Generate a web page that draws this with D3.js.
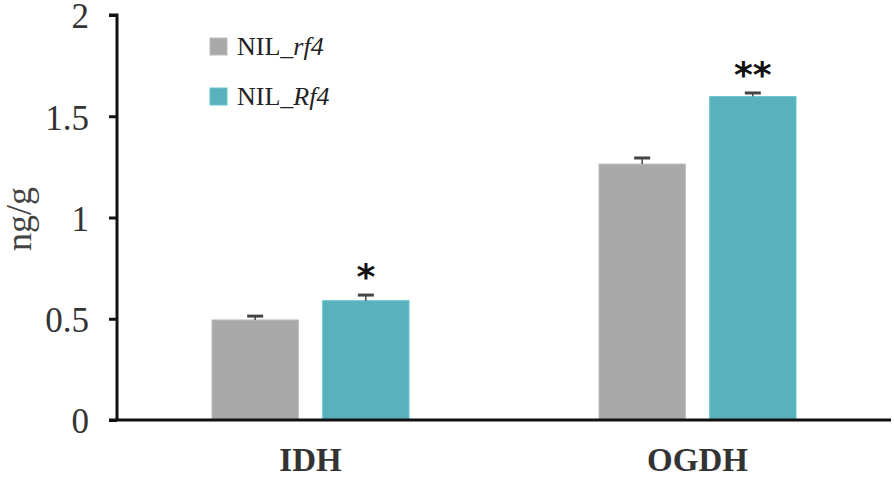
<!DOCTYPE html>
<html>
<head>
<meta charset="utf-8">
<script src="https://cdn.jsdelivr.net/npm/d3@7"></script>
<style>
  body { margin: 0; background: #fff; }
  text { font-family: "Liberation Serif", "DejaVu Serif", serif; fill: #333; }
</style>
</head>
<body>
<svg id="chart" width="894" height="481"></svg>
<script>
const categories = ["IDH", "OGDH"];
const series = ["rf4", "Rf4"];
const rf4Values = [0.494, 1.264];
const Rf4Values = [0.589, 1.597];
const rf4Errors = [0.019, 0.03];
const Rf4Errors = [0.028, 0.018];
const signif = ["*", "**"];
const yTicks = [0, 0.5, 1, 1.5, 2];
const colors = ["#a8a9a8", "#59b1bc"];

const svg = d3.select("#chart");

const y = d3.scaleLinear().domain([0, 2]).range([420, 15]);
const x0 = d3.scaleBand().domain(categories).range([117, 891]);
const x1 = d3.scaleBand().domain(series).range([-98.5, 98.5]).paddingInner(0.22);

const values = [rf4Values, Rf4Values];
const errors = [rf4Errors, Rf4Errors];

// bars
categories.forEach((cat, ci) => {
    const cx = x0(cat) + x0.bandwidth() / 2;
    series.forEach((s, si) => {
        const v = values[si][ci];
        const e = errors[si][ci];
        const bx = cx + x1(s);
        svg.append("rect")
            .attr("x", bx)
            .attr("y", y(v))
            .attr("width", x1.bandwidth())
            .attr("height", y(0) - y(v))
            .attr("fill", colors[si])
            .attr("stroke", d3.color(colors[si]).brighter(0.3))
            .attr("stroke-width", 1);
        // error bar
        const mx = bx + x1.bandwidth() / 2;
        svg.append("line")
            .attr("x1", mx).attr("x2", mx)
            .attr("y1", y(v)).attr("y2", y(v + e))
            .attr("stroke", "#444").attr("stroke-width", 1.5);
        svg.append("line")
            .attr("x1", mx - 8).attr("x2", mx + 8)
            .attr("y1", y(v + e)).attr("y2", y(v + e))
            .attr("stroke", "#444").attr("stroke-width", 3);
    });
    // significance stars over Rf4 bar
    const sx = cx + x1("Rf4") + x1.bandwidth() / 2;
    svg.append("text")
        .attr("x", sx)
        .attr("y", y(Rf4Values[ci] + Rf4Errors[ci]) - 6)
        .attr("text-anchor", "middle")
        .style("font-family", "'DejaVu Sans', sans-serif")
        .style("font-weight", "bold")
        .style("font-size", "36px")
        .style("fill", "#111")
        .text(signif[ci]);
});

// y axis
const yAxis = svg.append("g")
    .attr("transform", "translate(117,0)")
    .call(d3.axisLeft(y).tickValues(yTicks).tickSize(8).tickPadding(20).tickFormat(d3.format("")));
yAxis.select(".domain").attr("stroke", "#111").attr("stroke-width", 3)
    .attr("d", `M-8,${y(2)}H0V${y(0)}`);
yAxis.selectAll(".tick line").attr("stroke", "#111").attr("stroke-width", 3);
yAxis.selectAll(".tick text")
    .style("font-family", "'Liberation Serif', serif")
    .style("font-size", "35px")
    .attr("fill", "#444")
    .attr("dy", "0.37em");

// x axis
const xAxis = svg.append("g")
    .attr("transform", `translate(0,${y(0)})`)
    .call(d3.axisBottom(x0).tickSize(0).tickPadding(0));
xAxis.select(".domain").attr("stroke", "#111").attr("stroke-width", 3)
    .attr("d", `M109,0H891`);
xAxis.selectAll(".tick text")
    .attr("dy", null)
    .attr("y", 51)
    .style("font-family", "'Liberation Serif', serif")
    .style("font-size", "33px")
    .style("font-weight", "bold")
    .attr("fill", "#444");

// y title
svg.append("text")
    .attr("transform", "translate(31,219) rotate(-90)")
    .attr("text-anchor", "middle")
    .style("font-size", "36px")
    .style("fill", "#444")
    .text("ng/g");

// legend
series.forEach((s, i) => {
    const ly = 38 + i * 50;
    svg.append("rect")
        .attr("x", 210).attr("y", ly)
        .attr("width", 17).attr("height", 17)
        .attr("fill", colors[i])
        .attr("stroke", d3.color(colors[i]).brighter(0.3));
    const t = svg.append("text")
        .attr("x", 237).attr("y", ly + 17)
        .style("font-size", "26px")
        .style("fill", "#222");
    t.append("tspan").text("NIL_");
    t.append("tspan").style("font-style", "italic").text(s);
});
</script>
</body>
</html>
